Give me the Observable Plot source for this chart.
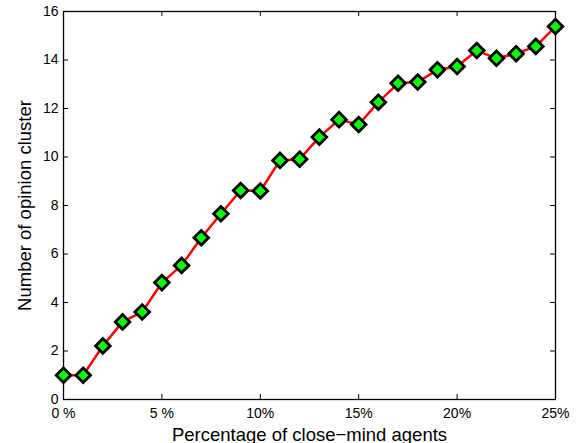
<!DOCTYPE html>
<html>
<head>
<meta charset="utf-8">
<script src="https://cdn.jsdelivr.net/npm/d3@7"></script>
<script src="https://cdn.jsdelivr.net/npm/@observablehq/plot@0.6"></script>
<style>
  html, body { margin: 0; padding: 0; background: #fff; }
  #chart svg { font-family: "Liberation Sans", Arial, Helvetica, sans-serif; }
</style>
</head>
<body>
<div id="chart"></div>
<script>
const percentages = [0,1,2,3,4,5,6,7,8,9,10,11,12,13,14,15,16,17,18,19,20,21,22,23,24,25];
const clusters = [1.0,1.0,2.21,3.2,3.61,4.82,5.53,6.67,7.66,8.62,8.6,9.86,9.91,10.82,11.54,11.34,12.26,13.04,13.09,13.6,13.73,14.39,14.07,14.26,14.56,15.38];
const xTicks = [0,5,10,15,20,25];
const xTickLabels = ["0 %","5 %","10%","15%","20%","25%"];
const yTicks = [0,2,4,6,8,10,12,14,16];
const xLabel = "Percentage of close\u2212mind agents";
const yLabel = "Number of opinion cluster";

const data = percentages.map((p, i) => ({p, c: clusters[i]}));

const W = 579, H = 443;
const mL = 63, mR = 24, mT = 11, mB = 44;
const plotW = W - mL - mR, plotH = H - mT - mB;
const tickLen = 5;
const fam = '"Liberation Sans", Arial, Helvetica, sans-serif';

const chart = Plot.plot({
  width: W,
  height: H,
  marginLeft: mL,
  marginRight: mR,
  marginTop: mT,
  marginBottom: mB,
  style: {fontFamily: fam, fontSize: "14px", color: "#000", background: "#fff", overflow: "visible"},
  x: {domain: [0, 25]},
  y: {domain: [0, 16]},
  marks: [
    Plot.tickX(xTicks, {x: d => d, insetTop: plotH - tickLen, stroke: "#000", strokeWidth: 1}),
    Plot.tickX(xTicks, {x: d => d, insetBottom: plotH - tickLen, stroke: "#000", strokeWidth: 1}),
    Plot.tickY(yTicks, {y: d => d, insetRight: plotW - tickLen, stroke: "#000", strokeWidth: 1}),
    Plot.tickY(yTicks, {y: d => d, insetLeft: plotW - tickLen, stroke: "#000", strokeWidth: 1}),
    Plot.axisX({ticks: xTicks, tickSize: 0, tickPadding: 9, tickFormat: (d) => xTickLabels[xTicks.indexOf(d)], fontSize: 14, label: null}),
    Plot.axisY({ticks: yTicks, tickSize: 0, tickPadding: 5, fontSize: 14, label: null}),
    Plot.text([xLabel], {frameAnchor: "bottom", lineAnchor: "bottom", textAnchor: "middle", dy: 41, fontSize: 18.5, fill: "#000"}),
    Plot.text([yLabel], {frameAnchor: "left", lineAnchor: "bottom", textAnchor: "middle", rotate: -90, dx: -33, fontSize: 18.5, fill: "#000"}),
    Plot.frame({stroke: "#000", strokeWidth: 1.3}),
    Plot.line(data, {x: "p", y: "c", stroke: "#ff0000", strokeWidth: 2.5}),
    Plot.dot(data, {x: "p", y: "c", symbol: "diamond2", r: 6.6, fill: "#00ff00", stroke: "#000", strokeWidth: 2.8})
  ]
});
document.getElementById("chart").appendChild(chart);
</script>
</body>
</html>
